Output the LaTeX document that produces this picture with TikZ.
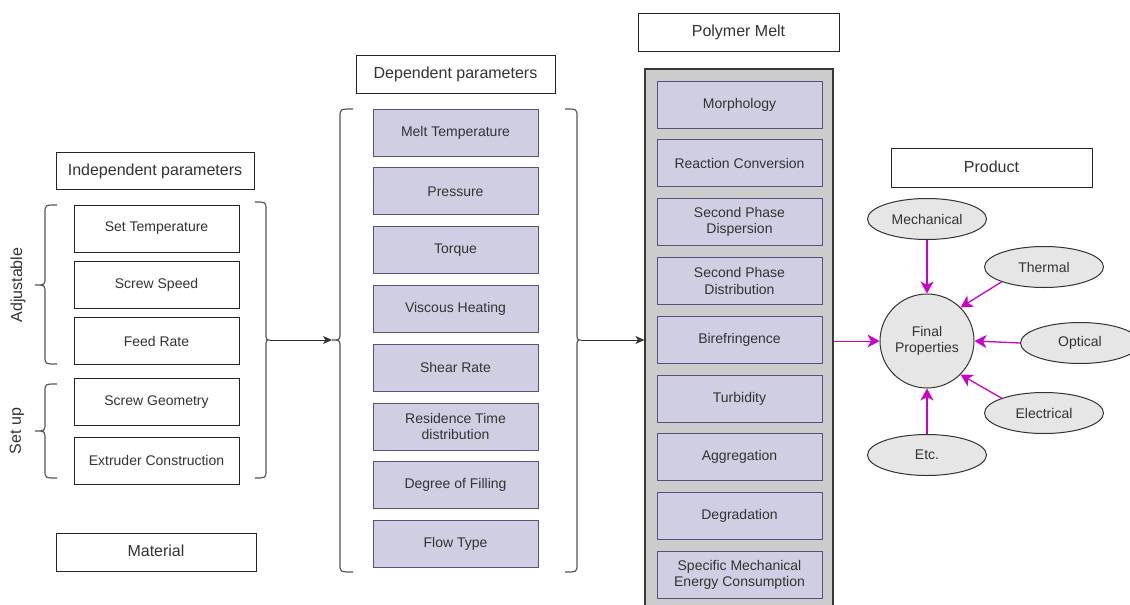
\documentclass[tikz,border=0pt]{standalone}
\usepackage{fontspec}
\setmainfont{Liberation Sans}
\usetikzlibrary{shapes.geometric,arrows.meta}
\definecolor{lav}{HTML}{D0CEE2}
\definecolor{lavd}{HTML}{56517E}
\definecolor{txt}{HTML}{333333}
\definecolor{mag}{HTML}{CC00CC}
\definecolor{contfill}{HTML}{CCCCCC}
\definecolor{contdraw}{HTML}{36393D}
\definecolor{ellfill}{HTML}{E6E6E6}
\definecolor{bracec}{HTML}{555555}
\newcommand\mybrace[7]{%
  \draw[brc] (#4,#5) .. controls (#3,#5) .. (#3,#5+8) -- (#3,#6-8)
    .. controls (#3,#6) .. (#2,#6) .. controls (#3,#6) .. (#3,#6+8)
    -- (#3,#7-8) .. controls (#3,#7) .. (#4,#7);
  \coordinate (#1) at (#2,#6);}
\begin{document}
\begin{tikzpicture}[x=1pt,y=-1pt,
  hdr/.style={draw=black!85, line width=1pt, fill=white, minimum width=200pt, minimum height=38pt, inner sep=0pt, font=\fontsize{16}{18}\selectfont, text=txt, text height=11pt, text depth=2pt},
  wbox/.style={draw=black!85, line width=1pt, fill=white, minimum width=165pt, minimum height=47pt, inner sep=0pt, font=\fontsize{14}{16.5}\selectfont, text=txt, align=center},
  pbox/.style={wbox, draw=lavd, fill=lav},
  ell/.style={ellipse, draw=black!80, line width=1pt, fill=ellfill, minimum width=119pt, minimum height=41pt, inner sep=0pt, font=\fontsize{14}{16.5}\selectfont, text=txt},
  brc/.style={draw=bracec, line width=1.2pt},
  barrow/.style={draw=black!80, line width=1pt, -{Stealth[length=9pt,width=8pt,inset=2.5pt]}},
  marrow/.style={draw=mag, line width=1.3pt, -{Stealth[length=12pt,width=13pt,inset=3.5pt]}},
  side/.style={rotate=90, font=\fontsize{16}{18}\selectfont, text=txt}
]
\useasboundingbox (0,0) rectangle (1130,605);
\fill[white] (0,0) rectangle (1130,605);

% headers
\node[hdr, minimum width=198pt, minimum height=37pt] (indep) at (155,170.5) {Independent parameters};
\node[hdr] (mat) at (156,552) {Material};
\node[hdr, minimum width=199pt] (dep) at (455.5,74) {Dependent parameters};
\node[hdr, minimum width=201pt] (pm) at (738.5,32) {Polymer Melt};
\node[hdr, minimum width=201pt, minimum height=39pt] (prod) at (991.5,167.5) {Product};

% independent parameters
\node[wbox] (st) at (156.5,228.5) {Set Temperature};
\node[wbox] (ss) at (156.5,284.5) {Screw Speed};
\node[wbox] (fr) at (156.5,341) {Feed Rate};
\node[wbox] (sg) at (156.5,402) {Screw Geometry};
\node[wbox] (ec) at (156.5,460.5) {Extruder Construction};

\mybrace{bA}{35}{45}{57}{205}{285}{364}
\mybrace{bB}{35}{45}{57}{384}{431}{478}
\node[side] (adj) at (18,285) {Adjustable};
\node[side] (setup) at (17,431) {Set up};
\mybrace{bC}{270}{266}{255}{202}{340}{478}

% dependent parameters
\foreach \t [count=\i from 0] in {Melt Temperature,Pressure,Torque,Viscous Heating,Shear Rate,{Residence Time\\distribution},Degree of Filling,Flow Type}{
  \node[pbox] (d\i) at (455.5,{109+\i*58.8+23.5}) {\t};
}
\mybrace{bD}{332}{340}{353}{109}{340}{572}
\mybrace{bE}{581}{577}{565}{109}{340}{572}

% polymer melt
\node[draw=contdraw, fill=contfill, line width=1.2pt, minimum width=188pt, minimum height=541pt, inner sep=0pt] (cont) at (739,339.5) {};
\foreach \t [count=\i from 0] in {Morphology,Reaction Conversion,{Second Phase\\Dispersion},{Second Phase\\Distribution},Birefringence,Turbidity,Aggregation,Degradation,{Specific Mechanical\\Energy Consumption}}{
  \node[pbox] (m\i) at (739.5,{81+\i*58.8+23.5}) {\t};
}

% arrows between columns
\draw[barrow] (bC) -- (bD);
\draw[barrow] (bE) -- (bE -| cont.west);

% product
\node[circle, draw=black!80, line width=1pt, fill=ellfill, minimum size=94pt, inner sep=0pt, align=center, font=\fontsize{14}{16.5}\selectfont, text=txt] (fp) at (927,341) {Final\\Properties};
\node[ell] (me) at (927,219) {Mechanical};
\node[ell] (th) at (1044,267) {Thermal};
\node[ell] (op) at (1080,343) {Optical};
\node[ell] (el) at (1044,413) {Electrical};
\node[ell] (etc) at (927,455) {Etc.};

\draw[marrow, line width=0.9pt] (cont.east |- fp.west) -- (fp.west);
\draw[marrow] (me.south) -- (fp.north);
\draw[marrow] (th.south west) -- (fp.north east);
\draw[marrow] (op.west) -- (fp.east);
\draw[marrow] (el.north west) -- (fp.south east);
\draw[marrow] (etc.north) -- (fp.south);
\end{tikzpicture}
\end{document}
